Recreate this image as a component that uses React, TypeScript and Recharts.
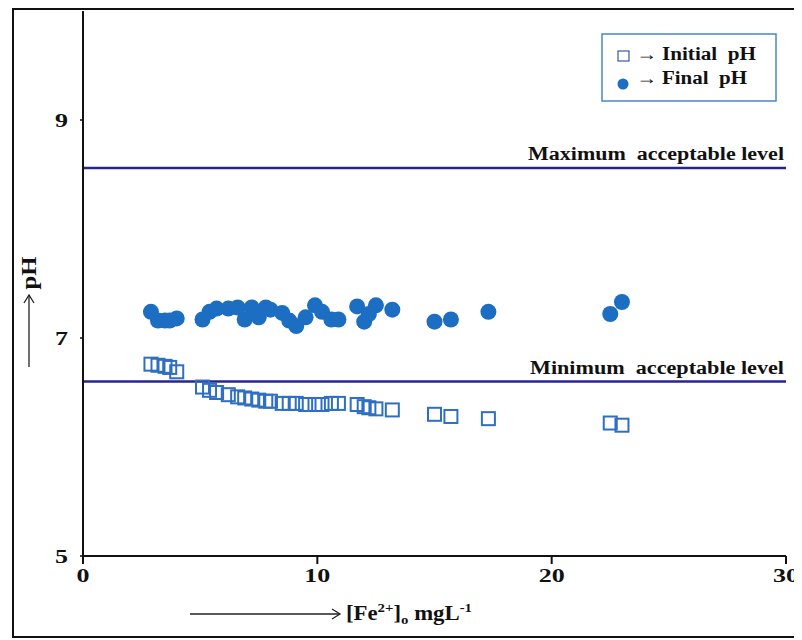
import { ScatterChart, Scatter, XAxis, YAxis, ReferenceLine } from "recharts";

// Fe(II) dose in mg/L, shared by both pH series
const feConc = [
  2.9, 3.2, 3.5, 3.7, 4.0, 5.1, 5.4, 5.7, 6.2, 6.6, 6.9, 7.2, 7.5, 7.8, 8.0,
  8.5, 8.8, 9.1, 9.5, 9.9, 10.2, 10.6, 10.9, 11.7, 12.0, 12.2, 12.5, 13.2,
  15.0, 15.7, 17.3, 22.5, 23.0,
];
const initialPH = [
  6.76, 6.75, 6.74, 6.73, 6.69, 6.55, 6.52, 6.5, 6.48, 6.46, 6.45, 6.44, 6.43,
  6.42, 6.42, 6.4, 6.4, 6.4, 6.39, 6.39, 6.39, 6.4, 6.4, 6.39, 6.37, 6.36,
  6.35, 6.34, 6.3, 6.28, 6.26, 6.22, 6.2,
];
const finalPH = [
  7.24, 7.16, 7.16, 7.16, 7.18, 7.17, 7.24, 7.27, 7.27, 7.28, 7.17, 7.28, 7.19,
  7.28, 7.26, 7.23, 7.16, 7.11, 7.19, 7.3, 7.24, 7.17, 7.17, 7.29, 7.15, 7.22,
  7.3, 7.26, 7.15, 7.17, 7.24, 7.22, 7.33,
];
const xTicks = [0, 10, 20, 30];
const yTicks = [5, 7, 9];
const maxLevel = 8.56;
const minLevel = 6.6;

const initialData = feConc.map((fe, i) => ({ fe, ph: initialPH[i] }));
const finalData = feConc.map((fe, i) => ({ fe, ph: finalPH[i] }));

const SERIF = "'Liberation Serif', 'Times New Roman', serif";
const SQUARE_BLUE = "#2f6fc3";
const DOT_BLUE = "#1b6ec2";
const LEVEL_BLUE = "#26268f";
const PRE = { whiteSpace: "pre" as const };

function SquareMark(props: any) {
  const { cx, cy } = props;
  if (cx == null || cy == null) return null;
  return (
    <rect x={cx - 6.5} y={cy - 6.5} width={13} height={13} fill="none" stroke={SQUARE_BLUE} strokeWidth={2} />
  );
}

function DotMark(props: any) {
  const { cx, cy } = props;
  if (cx == null || cy == null) return null;
  return <circle cx={cx} cy={cy} r={8} fill={DOT_BLUE} />;
}

function YTick(props: any) {
  const { x, y, payload } = props;
  const s = String(payload.value);
  return (
    <text x={x} y={y} dy="0.36em" textAnchor="end" fontFamily={SERIF} fontWeight="bold" fontSize={19}
      fill="#111" textLength={13 * s.length} lengthAdjust="spacingAndGlyphs">
      {s}
    </text>
  );
}

function XTick(props: any) {
  const { x, y, payload } = props;
  const s = String(payload.value);
  return (
    <text x={x} y={y} dy="0.71em" textAnchor="middle" fontFamily={SERIF} fontWeight="bold" fontSize={19}
      fill="#111" textLength={13 * s.length} lengthAdjust="spacingAndGlyphs">
      {s}
    </text>
  );
}

function levelLabel(text: string, width: number) {
  return (props: any) => {
    const vb = props.viewBox;
    return (
      <text x={vb.x + vb.width - 2} y={vb.y - 8} textAnchor="end" fontFamily={SERIF} fontWeight="bold"
        fontSize={18} fill="#111" textLength={width} lengthAdjust="spacingAndGlyphs" style={PRE}>
        {text}
      </text>
    );
  };
}

function YLabel() {
  return (
    <g>
      <text x={21} y={265} transform="rotate(-90 21 265)" textAnchor="middle" dy="0.35em" fontFamily={SERIF}
        fontWeight="bold" fontSize={20} fill="#111" textLength={33} lengthAdjust="spacingAndGlyphs">
        pH
      </text>
      <line x1={21} y1={359} x2={21} y2={287} stroke="#222" strokeWidth={1.3} />
      <polyline points="16,295 21,287 26,295" fill="none" stroke="#222" strokeWidth={1.3} />
    </g>
  );
}

function XLabel() {
  return (
    <g>
      <line x1={182} y1={606} x2={332} y2={606} stroke="#222" strokeWidth={1.3} />
      <polyline points="324,601 332,606 324,611" fill="none" stroke="#222" strokeWidth={1.3} />
      <text x={338} y={612} fontFamily={SERIF} fontWeight="bold" fontSize={20} fill="#111"
        textLength={126} lengthAdjust="spacingAndGlyphs">
        <tspan>[Fe</tspan>
        <tspan dy={-8} fontSize={13}>2+</tspan>
        <tspan dy={8}>]</tspan>
        <tspan dy={4} fontSize={13}>o</tspan>
        <tspan dy={-4} style={PRE}> mgL</tspan>
        <tspan dy={-8} fontSize={13}>-1</tspan>
      </text>
    </g>
  );
}

function LegendBox() {
  const text = { fontFamily: SERIF, fontWeight: "bold" as const, fontSize: 18, fill: "#111", style: PRE };
  return (
    <svg width={176} height={69} style={{ position: "absolute", left: 593, top: 25 }}>
      <rect x={1} y={1} width={174} height={67} fill="#fff" stroke="#4a86c5" strokeWidth={1.5} />
      <rect x={17} y={18} width={11} height={10} fill="none" stroke="#3a5a9a" strokeWidth={1.2} />
      <text x={35} y={27} {...text} textLength={21} lengthAdjust="spacingAndGlyphs">→</text>
      <text x={61} y={27} {...text} textLength={94} lengthAdjust="spacingAndGlyphs">Initial  pH</text>
      <circle cx={22} cy={51} r={5.5} fill={DOT_BLUE} />
      <text x={35} y={51} {...text} textLength={21} lengthAdjust="spacingAndGlyphs">→</text>
      <text x={61} y={51} {...text} textLength={85} lengthAdjust="spacingAndGlyphs">Final  pH</text>
    </svg>
  );
}

export default function App() {
  return (
    <div style={{ position: "relative", width: 794, height: 632, background: "#fff" }}>
      <div
        style={{
          position: "absolute", left: 4, top: 0, width: 786, height: 630,
          border: "2px solid #111", boxSizing: "border-box", pointerEvents: "none",
        }}
      />
      <ScatterChart width={794} height={632} margin={{ top: 3, right: 16, left: 35, bottom: 54 }}>
        <XAxis
          type="number" dataKey="fe" domain={[0, 30]} ticks={xTicks} height={30}
          axisLine={{ stroke: "#111", strokeWidth: 2 }} tickLine={{ stroke: "#111", strokeWidth: 2 }}
          tickSize={8} tickMargin={5} tick={<XTick />} label={{ content: () => <XLabel /> }}
        />
        <YAxis
          type="number" dataKey="ph" domain={[5, 10]} ticks={yTicks} width={40} allowDataOverflow
          axisLine={{ stroke: "#111", strokeWidth: 2 }} tickLine={{ stroke: "#111", strokeWidth: 1.5 }}
          tickSize={3} tickMargin={12} tick={<YTick />} label={{ content: () => <YLabel /> }}
        />
        <ReferenceLine y={maxLevel} stroke={LEVEL_BLUE} strokeWidth={2.5}
          label={{ content: levelLabel("Maximum  acceptable level", 256) }} />
        <ReferenceLine y={minLevel} stroke={LEVEL_BLUE} strokeWidth={2.5}
          label={{ content: levelLabel("Minimum  acceptable level", 254) }} />
        <Scatter name="Initial pH" data={initialData} shape={<SquareMark />} isAnimationActive={false} />
        <Scatter name="Final pH" data={finalData} shape={<DotMark />} isAnimationActive={false} />
      </ScatterChart>
      <LegendBox />
    </div>
  );
}
